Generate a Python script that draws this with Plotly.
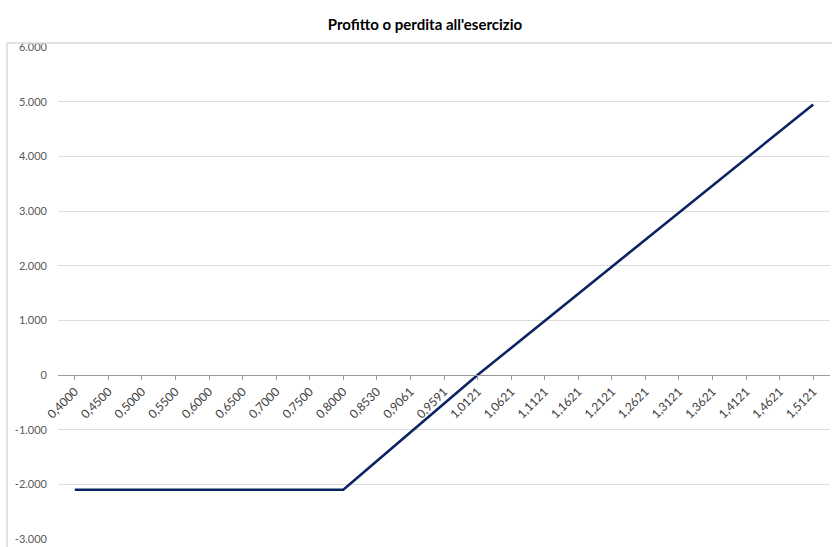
import plotly.graph_objects as go

prezzi = ["0,4000", "0,4500", "0,5000", "0,5500", "0,6000", "0,6500", "0,7000", "0,7500",
          "0,8000", "0,8530", "0,9061", "0,9591", "1,0121", "1,0621", "1,1121", "1,1621",
          "1,2121", "1,2621", "1,3121", "1,3621", "1,4121", "1,4621", "1,5121"]
profitto = [-2100, -2100, -2100, -2100, -2100, -2100, -2100, -2100,
            -2100, -1575, -1049, -525, 0, 495, 990, 1485,
            1980, 2475, 2970, 3465, 3960, 4455, 4950]
y_ticks = [-3000, -2000, -1000, 0, 1000, 2000, 3000, 4000, 5000, 6000]
y_labels = ["-3.000", "-2.000", "-1.000", "0", "1.000", "2.000", "3.000", "4.000", "5.000", "6.000"]
titolo = "Profitto o perdita all'esercizio"

FONT = "Lato, 'Open Sans', sans-serif"

fig = go.Figure()
fig.add_trace(go.Scatter(
    x=prezzi, y=profitto, mode="lines",
    line=dict(color="#0b2461", width=2.6),
    showlegend=False, hoverinfo="skip"))

L, R, T, B = 58, 2, 47, 8
W, H = 832, 547
pw = W - L - R
ph = H - T - B

fig.update_layout(
    width=W, height=H,
    margin=dict(l=L, r=R, t=T, b=B),
    paper_bgcolor="white", plot_bgcolor="white",
    font=dict(family=FONT, size=11, color="#595959"),
    title=dict(text="<b>" + titolo + "</b>", x=425 / W, xanchor="center",
               y=1 - 25 / H, yanchor="middle",
               font=dict(family=FONT, size=15, color="#000000")),
    xaxis=dict(
        type="category", range=[-0.5, len(prezzi) - 0.5],
        anchor="free", position=3 / 9,
        showgrid=False, zeroline=False,
        showline=True, linecolor="#9a9a9a", linewidth=1,
        ticks="outside", ticklen=4, tickcolor="#9a9a9a", tickwidth=1,
        tickangle=-45, tickfont=dict(family=FONT, size=12, color="#404040"),
    ),
    yaxis=dict(
        range=[-3000, 6000], tickvals=y_ticks, ticktext=y_labels,
        showgrid=True, gridcolor="#dcdcdc", gridwidth=1,
        zeroline=False, showline=False, ticks="",
        ticklabelstandoff=10,
        tickfont=dict(family=FONT, size=11, color="#595959"),
    ),
    shapes=[
        dict(type="line", xref="paper", yref="paper",
             x0=(7 - L) / pw, x1=(7 - L) / pw, y0=(H - T - 4) / ph, y1=-B / ph,
             line=dict(color="#d9d9d9", width=1.5)),
        dict(type="line", xref="paper", yref="paper",
             x0=(7 - L) / pw, x1=(W - L) / pw, y0=(H - T - 4) / ph, y1=(H - T - 4) / ph,
             line=dict(color="#d9d9d9", width=1.5)),
    ],
)

fig.write_html(
    "out.html",
    config={"displayModeBar": False},
    post_script="document.body.style.margin='0';document.body.style.overflow='hidden';",
)
